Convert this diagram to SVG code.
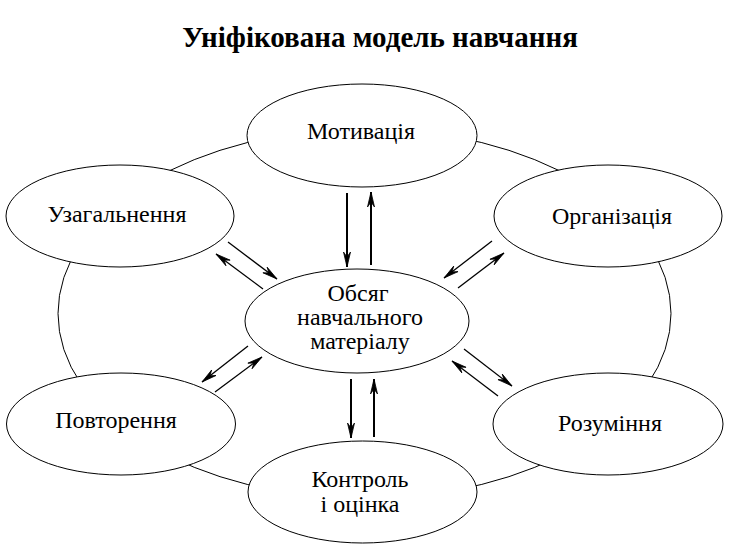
<svg xmlns="http://www.w3.org/2000/svg" width="730" height="555" viewBox="0 0 730 555">
<style>
.node{fill:#fff;stroke:#000;stroke-width:1}
.lbl{font-family:"Liberation Serif","Times New Roman",serif;font-size:24px;fill:#000;text-anchor:middle}
.title{font-family:"Liberation Serif","Times New Roman",serif;font-size:29px;font-weight:bold;fill:#000;text-anchor:middle}
.ring{fill:none;stroke:#000;stroke-width:1}
.v{stroke:#000;stroke-width:2;fill:none;marker-end:url(#ah)}
.d{stroke:#000;stroke-width:1.3;fill:none;marker-end:url(#ah)}
</style>
<defs>
<marker id="ah" markerUnits="userSpaceOnUse" viewBox="-16 -5 18 10" refX="0" refY="0" markerWidth="18" markerHeight="10" orient="auto">
<path d="M0,0 L-15,-3.5 L-10,0 L-15,3.5 Z" fill="#000" stroke="#000" stroke-width="0.8"/>
</marker>
</defs>
<rect width="730" height="555" fill="#fff"/>
<text class="title" x="380" y="47">Уніфікована модель навчання</text>
<ellipse class="ring" cx="364.5" cy="313.5" rx="306.5" ry="185"/>
<g id="connectors">
<line class="v" x1="347" y1="193" x2="347" y2="267"/>
<line class="v" x1="371" y1="265" x2="371" y2="192"/>
<line class="v" x1="351" y1="379" x2="351" y2="438"/>
<line class="v" x1="374" y1="437" x2="374" y2="379"/>
<line class="d" x1="228" y1="242" x2="277" y2="279"/>
<line class="d" x1="263" y1="289" x2="216" y2="254"/>
<line class="d" x1="492" y1="241" x2="444" y2="278"/>
<line class="d" x1="458" y1="288" x2="504" y2="253"/>
<line class="d" x1="248" y1="346" x2="202" y2="382"/>
<line class="d" x1="215" y1="392" x2="262" y2="357"/>
<line class="d" x1="464" y1="349" x2="512" y2="386"/>
<line class="d" x1="498" y1="396" x2="452" y2="361"/>
</g>
<g id="motyvatsiia">
<ellipse class="node" cx="362" cy="135.5" rx="115" ry="51.5"/>
<text class="lbl" x="361" y="139">Мотивація</text>
</g>
<g id="uzahalnennia">
<ellipse class="node" cx="120" cy="216" rx="114" ry="51"/>
<text class="lbl" x="117" y="222">Узагальнення</text>
</g>
<g id="orhanizatsiia">
<ellipse class="node" cx="608" cy="216" rx="114" ry="51"/>
<text class="lbl" x="612" y="224">Організація</text>
</g>
<g id="obsiah">
<ellipse class="node" cx="357" cy="321" rx="112" ry="52"/>
<text class="lbl" x="358" y="301">Обсяг</text>
<text class="lbl" x="360" y="325">навчального</text>
<text class="lbl" x="360" y="349">матеріалу</text>
</g>
<g id="povtorennia">
<ellipse class="node" cx="121" cy="424" rx="114.5" ry="51"/>
<text class="lbl" x="116" y="428">Повторення</text>
</g>
<g id="rozuminnia">
<ellipse class="node" cx="608" cy="424" rx="115" ry="51"/>
<text class="lbl" x="610" y="431">Розуміння</text>
</g>
<g id="kontrol">
<ellipse class="node" cx="362.5" cy="492" rx="114.5" ry="51"/>
<text class="lbl" x="360" y="487">Контроль</text>
<text class="lbl" x="360" y="512">і оцінка</text>
</g>
</svg>
